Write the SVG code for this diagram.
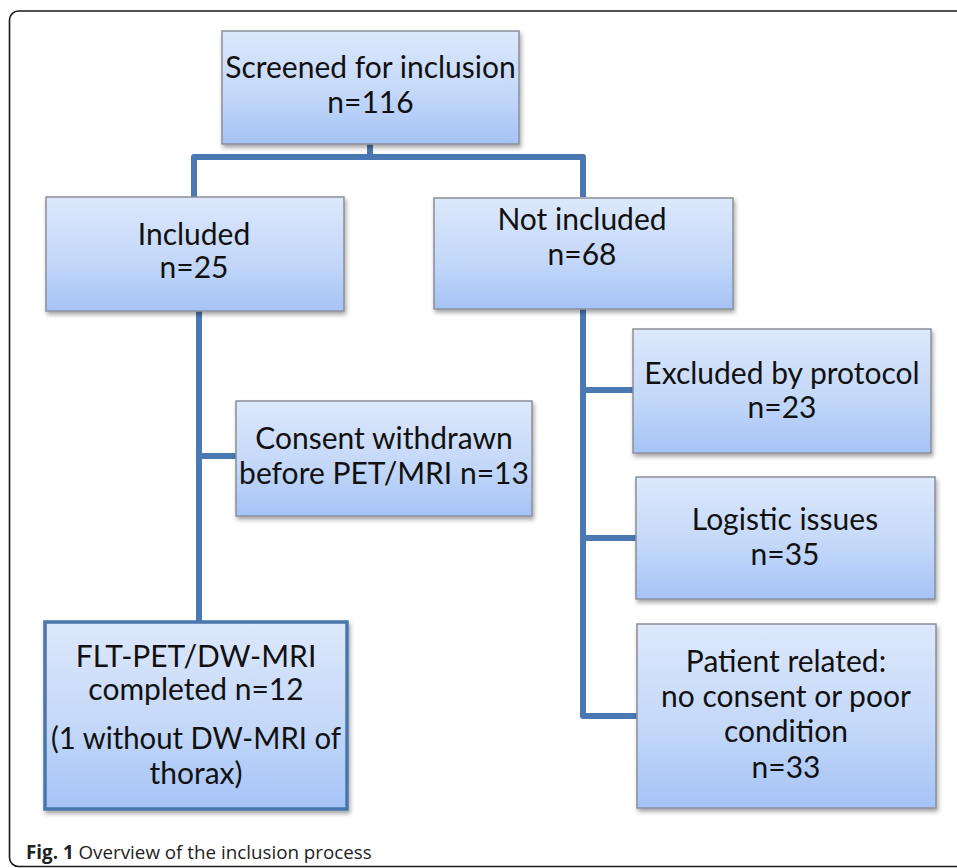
<svg xmlns="http://www.w3.org/2000/svg" width="957" height="868" viewBox="0 0 957 868">
<defs>
<linearGradient id="g" x1="0" y1="0" x2="0" y2="1">
<stop offset="0" stop-color="#dde8fb"/>
<stop offset="0.55" stop-color="#c4d8f9"/>
<stop offset="1" stop-color="#a5c3f6"/>
</linearGradient>
<filter id="sh" x="-5%" y="-5%" width="115%" height="120%">
<feDropShadow dx="1.5" dy="3" stdDeviation="2" flood-color="#000" flood-opacity="0.35"/>
</filter>
<style>
.box{fill:url(#g);stroke:#8a8f98;stroke-width:1.5;filter:url(#sh)}
.box2{fill:url(#g);stroke:#4a76ad;stroke-width:3.5;filter:url(#sh)}
.t{font-family:Lato,"Liberation Sans",sans-serif;font-size:30px;fill:#111;text-anchor:middle}
.c{fill:none;stroke:#4a78b2;stroke-width:6;stroke-linejoin:round;stroke-linecap:butt}
.cap{font-family:"Open Sans","Noto Sans",sans-serif;font-size:18.8px;fill:#222}
</style>
</defs>
<rect x="0" y="0" width="957" height="868" fill="#fff"/>
<rect x="9.5" y="11" width="970" height="855.5" rx="9" fill="none" stroke="#1a1a1a" stroke-width="1.6"/>

<g id="connectors">
<path class="c" d="M370,144 V157 M194,197 V157 H583 V197"/>
<path class="c" d="M199,311 V621 M199,456 H236"/>
<path class="c" d="M583,309 V716 H637 M583,390 H633 M583,538 H636"/>
</g>

<g id="screened">
<rect class="box" x="222" y="31" width="297" height="113"/>
<text class="t" x="370.5" y="78">Screened for inclusion</text>
<text class="t" x="370.5" y="113">n=116</text>
</g>

<g id="included">
<rect class="box" x="46" y="197" width="298" height="114"/>
<text class="t" x="194" y="245">Included</text>
<text class="t" x="194" y="278">n=25</text>
</g>

<g id="not-included">
<rect class="box" x="434" y="198" width="299" height="111"/>
<text class="t" x="582" y="230">Not included</text>
<text class="t" x="582" y="265">n=68</text>
</g>

<g id="consent">
<rect class="box" x="236" y="401" width="296" height="115"/>
<text class="t" x="384" y="449">Consent withdrawn</text>
<text class="t" x="384" y="484">before PET/MRI n=13</text>
</g>

<g id="completed">
<rect class="box2" x="45" y="622" width="302" height="187"/>
<text class="t" x="196" y="667">FLT-PET/DW-MRI</text>
<text class="t" x="196" y="700">completed n=12</text>
<text class="t" x="196" y="749" textLength="290" lengthAdjust="spacingAndGlyphs">(1 without DW-MRI of</text>
<text class="t" x="196" y="784">thorax)</text>
</g>

<g id="excluded">
<rect class="box" x="633" y="329" width="298" height="124"/>
<text class="t" x="782" y="384">Excluded by protocol</text>
<text class="t" x="782" y="418">n=23</text>
</g>

<g id="logistic">
<rect class="box" x="636" y="477" width="299" height="122"/>
<text class="t" x="785" y="530">Logistic issues</text>
<text class="t" x="785" y="565">n=35</text>
</g>

<g id="patient">
<rect class="box" x="637" y="624" width="299" height="184"/>
<text class="t" x="786" y="672">Patient related:</text>
<text class="t" x="786" y="707">no consent or poor</text>
<text class="t" x="786" y="742">condition</text>
<text class="t" x="786" y="778">n=33</text>
</g>

<text class="cap" x="26" y="859"><tspan font-weight="bold">Fig. 1</tspan> Overview of the inclusion process</text>
</svg>
